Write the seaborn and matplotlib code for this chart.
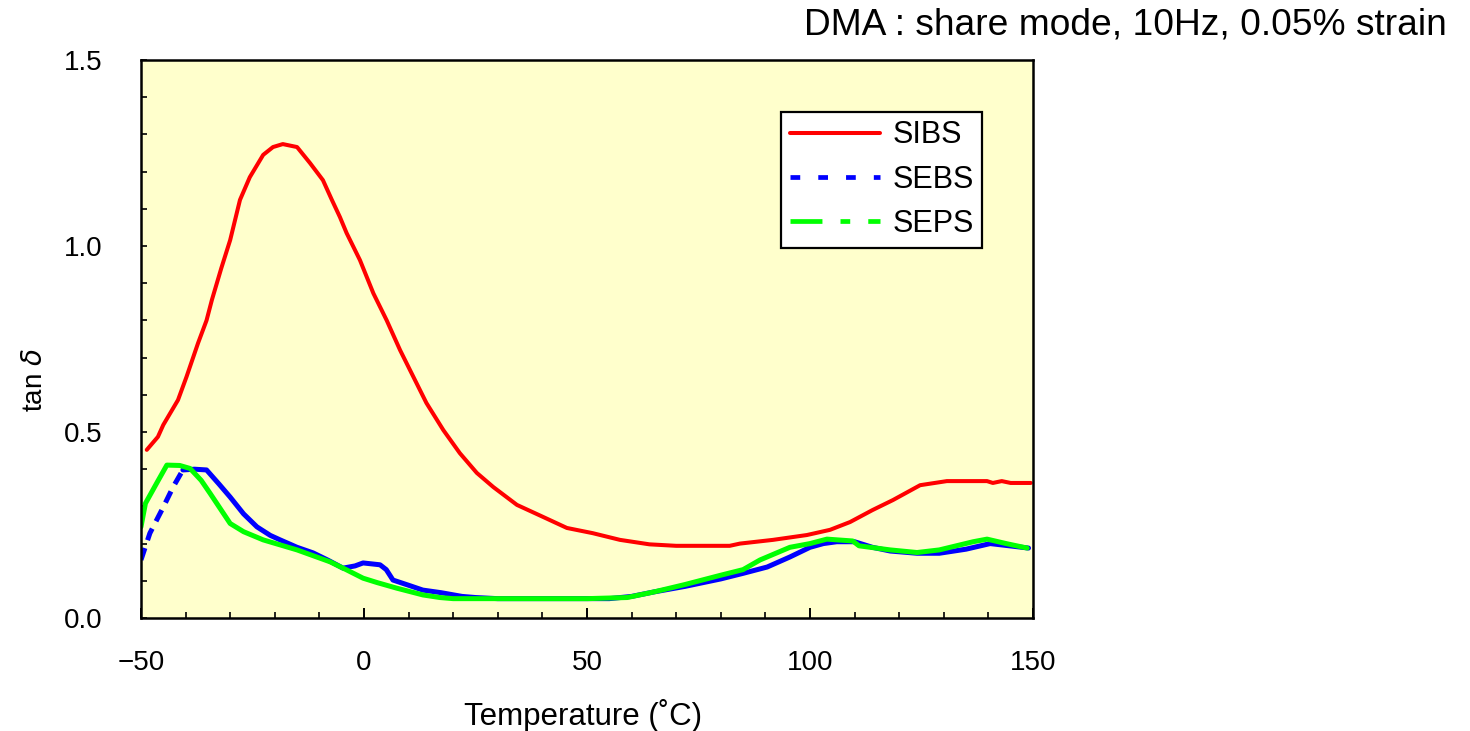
import numpy as np
import pandas as pd
import matplotlib
matplotlib.use("Agg")
import matplotlib.pyplot as plt
import seaborn as sns
from matplotlib.lines import Line2D
from matplotlib.ticker import MultipleLocator, FormatStrFormatter

# ---- data ----
sibs_t = [-48.7, -46.2, -45.0, -41.7, -39.8, -37.2, -35.3, -34.1, -32.0, -30.0,
          -27.8, -25.6, -22.6, -20.4, -18.2, -15.0, -12.1, -9.2, -7.2, -5.4,
          -3.9, -0.9, 2.1, 5.1, 8.1, 10.3, 14.0, 17.8, 21.5, 25.3, 29.0,
          34.3, 40.1, 45.5, 51.3, 57.4, 64.0, 70.0, 82.0, 84.3, 91.7,
          99.3, 104.5, 109.0, 114.0, 118.6, 124.7, 130.7, 139.7, 141.0, 143.0,
          145.0, 149.5]
sibs_tan = [0.452, 0.487, 0.519, 0.586, 0.648, 0.739, 0.800, 0.855, 0.940, 1.016,
            1.124, 1.185, 1.245, 1.266, 1.274, 1.266, 1.223, 1.177, 1.124, 1.078,
            1.035, 0.962, 0.873, 0.800, 0.720, 0.667, 0.578, 0.505, 0.443, 0.390, 0.352,
            0.304, 0.272, 0.242, 0.228, 0.210, 0.198, 0.194, 0.194, 0.200, 0.210,
            0.223, 0.237, 0.258, 0.290, 0.317, 0.357, 0.368, 0.368, 0.363, 0.368,
            0.363, 0.363]

sebs_t = [-50.0, -48.0, -45.0, -42.8, -40.6, -38.0, -35.3, -32.5, -30.0, -27.0,
          -24.0, -21.0, -18.8, -15.0, -11.4, -8.0, -4.7, -2.0, -0.2, 3.6,
          5.0, 6.5, 10.0, 13.2, 17.3, 22.0, 25.0, 30.0, 40.0, 50.0,
          55.0, 60.0, 65.0, 72.0, 80.0, 85.0, 90.4, 95.5, 100.0, 103.0,
          106.0, 110.0, 114.0, 118.0, 124.0, 129.0, 135.0, 140.4, 144.0, 149.0]
sebs_tan = [0.156, 0.228, 0.298, 0.352, 0.398, 0.400, 0.398, 0.360, 0.325, 0.280,
            0.245, 0.222, 0.210, 0.190, 0.175, 0.155, 0.134, 0.140, 0.148, 0.143,
            0.130, 0.102, 0.088, 0.075, 0.068, 0.058, 0.055, 0.052, 0.052, 0.052,
            0.052, 0.058, 0.070, 0.085, 0.105, 0.120, 0.137, 0.164, 0.190, 0.200,
            0.205, 0.205, 0.190, 0.180, 0.174, 0.174, 0.185, 0.200, 0.195, 0.188]

seps_t = [-50.0, -49.0, -46.5, -44.2, -41.3, -39.0, -36.5, -34.5, -32.0, -30.0,
          -27.0, -22.6, -15.0, -7.6, -4.0, -0.2, 3.0, 7.4, 13.2, 17.0,
          20.0, 30.0, 40.0, 50.0, 59.0, 65.0, 72.0, 80.0, 85.0, 88.8,
          95.5, 100.0, 103.8, 109.6, 111.0, 118.0, 124.0, 129.0, 136.6, 139.7,
          144.0, 148.7]
seps_tan = [0.245, 0.308, 0.362, 0.411, 0.410, 0.402, 0.370, 0.335, 0.290, 0.254,
            0.232, 0.210, 0.183, 0.151, 0.130, 0.107, 0.095, 0.080, 0.062, 0.055,
            0.052, 0.052, 0.052, 0.052, 0.055, 0.070, 0.090, 0.115, 0.130, 0.156,
            0.190, 0.200, 0.212, 0.207, 0.194, 0.183, 0.176, 0.183, 0.205, 0.212,
            0.200, 0.188]

series_names = ["SIBS", "SEBS", "SEPS"]
x_ticks = [-50, 0, 50, 100, 150]
y_ticks = [0.0, 0.5, 1.0, 1.5]

# ---- style ----
sns.set_theme(style="ticks")
plt.rcParams["font.family"] = ["Liberation Sans", "DejaVu Sans"]
plt.rcParams["lines.scale_dashes"] = False
plt.rcParams["mathtext.fontset"] = "dejavusans"
plt.rcParams["text.color"] = "black"
plt.rcParams["axes.labelcolor"] = "black"
plt.rcParams["xtick.color"] = "black"
plt.rcParams["ytick.color"] = "black"

fig = plt.figure(figsize=(14.7, 7.31), dpi=100)
ax = fig.add_axes([0.0959, 0.1546, 0.6068, 0.7633])
ax.set_facecolor("#FFFFCC")

red = "#FF0000"
blue = "#0000FF"
green = "#00FF00"

# SEBS: sparse first points appear dashed, rest dense/solid
sns.lineplot(x=sebs_t[:5], y=sebs_tan[:5], color=blue, lw=3.6, sort=False,
             ax=ax, legend=False)
ax.lines[-1].set_dashes((9, 6))
sns.lineplot(x=sebs_t[4:], y=sebs_tan[4:], color=blue, lw=3.6, sort=False,
             ax=ax, legend=False)
sns.lineplot(x=seps_t, y=seps_tan, color=green, lw=3.6, sort=False,
             ax=ax, legend=False)
sns.lineplot(x=sibs_t, y=sibs_tan, color=red, lw=2.9, sort=False,
             ax=ax, legend=False)

ax.set_xlim(-50, 150)
ax.set_ylim(0, 1.5)
ax.set_xticks(x_ticks)
ax.set_yticks(y_ticks)
ax.xaxis.set_minor_locator(MultipleLocator(10))
ax.yaxis.set_minor_locator(MultipleLocator(0.1))
ax.yaxis.set_major_formatter(FormatStrFormatter("%.1f"))

for s in ax.spines.values():
    s.set_linewidth(1.8)
    s.set_color("black")

ax.tick_params(axis="x", which="major", direction="in", length=7, width=1.4,
               pad=23, labelsize=20, colors="black")
ax.tick_params(axis="x", which="minor", direction="in", length=4, width=1.2,
               colors="black")
ax.tick_params(axis="y", which="both", direction="in", length=4.5, width=1.2,
               colors="black")
ax.tick_params(axis="y", which="major", pad=28, labelsize=20)

ax.set_xlabel("Temperature (˚C)", fontsize=22.5, color="black")
ax.set_ylabel("tan $\\delta$", fontsize=20, color="black")
ax.xaxis.label.set_va("center")
ax.yaxis.label.set_va("center")
ax.xaxis.set_label_coords(0.4955, -0.174)
ax.yaxis.set_label_coords(-0.119, 0.427)

handles = [
    Line2D([], [], color=red, lw=2.9),
    Line2D([], [], color=blue, lw=3.4, dashes=(7, 13)),
    Line2D([], [], color=green, lw=3.4, dashes=(23, 13, 7, 13)),
]
leg = ax.legend(handles, series_names, loc="upper right",
                bbox_to_anchor=(0.943, 0.907), borderaxespad=0,
                fontsize=22, frameon=True,
                fancybox=False, edgecolor="black", facecolor="white",
                framealpha=1, handlelength=2.95, handletextpad=0.4,
                labelspacing=0.47, borderpad=0.28)
leg.get_frame().set_linewidth(1.6)
for t in leg.get_texts():
    t.set_color("black")

fig.text(1447 / 1470, 1 - 25 / 731, "DMA : share mode, 10Hz, 0.05% strain",
         ha="right", va="center", fontsize=26.7, color="black")

fig.savefig("out.png", dpi=100, facecolor="white")
